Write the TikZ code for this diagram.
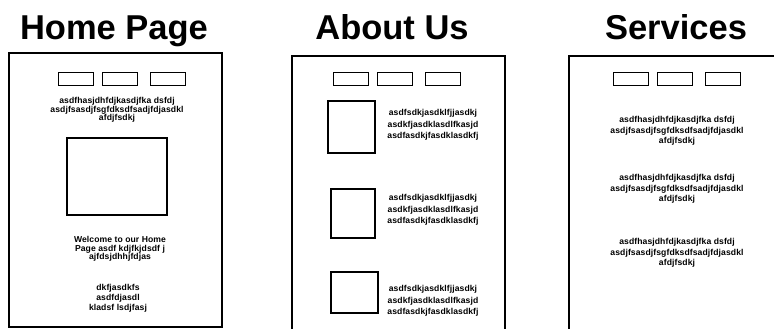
\documentclass[tikz,border=0pt]{standalone}
\usepackage{fontspec}
\setmainfont{Liberation Sans}
\newfontfamily\blurbfont[LetterSpace=1]{Liberation Sans}

\begin{document}
\begin{tikzpicture}[x=1pt,y=-1pt,
  pagetitle/.style={font=\fontsize{34.5}{34}\selectfont\bfseries, inner sep=0pt, anchor=base},
  frame/.style={line width=1.6pt},
  navbtn/.style={draw, line width=1.4pt, minimum width=35pt, minimum height=13pt, inner sep=0pt},
  picbox/.style={draw, line width=1.5pt, inner sep=0pt},
  blurb/.style={align=center, inner sep=0pt, font=\blurbfont\fontsize{8.6}{8.7}\selectfont\bfseries}]
\useasboundingbox (0,0) rectangle (774,329);

% titles
\node[pagetitle] (homett) at (114,40) {Home Page};
\node[pagetitle] (aboutt) at (392,40) {About Us};
\node[pagetitle] (servt) at (676,40) {Services};

% page frames
\draw[frame] (9,53) rectangle (222,327);
\draw[frame] (292,331) -- (292,56) -- (505,56) -- (505,331);
\draw[frame] (569,331) -- (569,56) -- (776,56);

% nav bars
\foreach \x/\n in {76/1,120/2,168/3} { \node[navbtn] (hnav\n) at (\x,79) {}; }
\foreach \x/\n in {351/1,395/2,443/3} { \node[navbtn] (anav\n) at (\x,79) {}; }
\foreach \x/\n in {631/1,675/2,723/3} { \node[navbtn] (snav\n) at (\x,79) {}; }

% home page
\node[blurb] (hintro) at (117,110) {asdfhasjdhfdjkasdjfka dsfdj\\asdjfsasdjfsgfdksdfsadjfdjasdkl\\afdjfsdkj};
\node[picbox, minimum width=100pt, minimum height=77pt] (hpic) at (117,176.5) {};
\node[blurb] (hwelcome) at (120,249) {Welcome to our Home\\Page asdf kdjfkjdsdf j\\ajfdsjdhhjfdjas};
\node[blurb, font=\blurbfont\fontsize{8.6}{10}\selectfont\bfseries] (hfoot) at (118,298.5) {dkfjasdkfs\\asdfdjasdl\\kladsf lsdjfasj};

% about us
\node[picbox, minimum width=47pt, minimum height=52pt] (apic1) at (351.5,127) {};
\node[picbox, minimum width=44pt, minimum height=49pt] (apic2) at (353,213.5) {};
\node[picbox, minimum width=47pt, minimum height=41pt] (apic3) at (354.5,292.5) {};
\foreach \y/\n in {125/1,210/2,301/3} {
  \node[blurb, font=\blurbfont\fontsize{8.6}{11.5}\selectfont\bfseries] (atext\n) at (433,\y) {asdfsdkjasdklfjjasdkj\\asdkfjasdklasdlfkasjd\\asdfasdkjfasdklasdkfj};
}

% services
\foreach \y/\n in {131/1,189/2,253/3} {
  \node[blurb, font=\blurbfont\fontsize{8.6}{10.5}\selectfont\bfseries] (stext\n) at (677,\y) {asdfhasjdhfdjkasdjfka dsfdj\\asdjfsasdjfsgfdksdfsadjfdjasdkl\\afdjfsdkj};
}
\end{tikzpicture}
\end{document}
